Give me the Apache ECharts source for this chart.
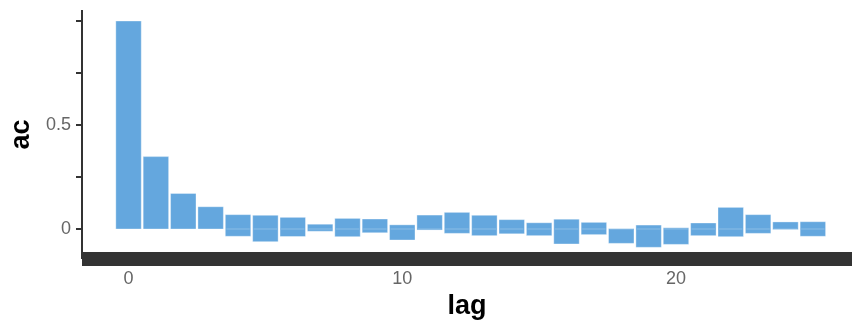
<!DOCTYPE html>
<html>
<head>
<meta charset="utf-8">
<script src="https://cdn.jsdelivr.net/npm/echarts@6/dist/echarts.min.js"></script>
<style>html,body{margin:0;padding:0;background:#fff}#c{width:852px;height:325px}</style>
</head>
<body>
<div id="c"></div>
<script>
var lags = [0,1,2,3,4,5,6,7,8,9,10,11,12,13,14,15,16,17,18,19,20,21,22,23,24,25];
var acPositive = [1.0,0.348,0.171,0.107,0.069,0.066,0.056,0.023,0.051,0.048,0.020,0.067,0.080,0.066,0.045,0.030,0.047,0.032,0.002,0.019,0.006,0.029,0.104,0.069,0.034,0.035];
var acNegative = [0,0,0,0,-0.035,-0.061,-0.036,-0.011,-0.037,-0.018,-0.053,-0.005,-0.021,-0.032,-0.023,-0.032,-0.072,-0.027,-0.069,-0.088,-0.074,-0.032,-0.037,-0.021,-0.003,-0.035];
var yTickValues = [0,0.25,0.5,0.75,1.0];
var yLabelValues = [0,0.5];
var xLabelValues = [0,10,20];

var chart = echarts.init(document.getElementById('c'), null, {renderer:'canvas'});
var font = 'Liberation Sans, Arial, Helvetica, sans-serif';
var barWidthLag = 0.93;
function renderBar(params, api) {
  var lag = api.value(0), pos = api.value(1), neg = api.value(2);
  var pTop = api.coord([lag - barWidthLag/2, pos]);
  var pBot = api.coord([lag + barWidthLag/2, neg]);
  var pZero = api.coord([lag, 0]);
  var x = pTop[0], w = pBot[0] - pTop[0];
  var children = [{
    type:'rect',
    shape:{x:x, y:pTop[1], width:w, height:pBot[1]-pTop[1]},
    style:{fill:'#64a7de', stroke:'rgba(255,255,255,0.35)', lineWidth:1}
  }];
  if (neg < 0) {
    children.push({type:'line', shape:{x1:x+1, y1:pZero[1], x2:x+w-1, y2:pZero[1]},
      style:{stroke:'rgba(255,255,255,0.25)', lineWidth:1}});
  }
  return {type:'group', children:children};
}
chart.setOption({
  animation:false,
  grid:{left:80,right:0,top:10,bottom:66},
  xAxis:{
    type:'value', min:-1.7, max:26.43,
    splitLine:{show:false},
    axisLine:{show:true, onZero:false, lineStyle:{color:'#333333', width:14, cap:'butt'}},
    axisTick:{show:false},
    axisLabel:{customValues:xLabelValues, color:'#666666', fontSize:18, fontFamily:font, margin:11,
      formatter:function(v){return String(v);}},
    name:'lag', nameLocation:'middle', nameGap:25,
    nameTextStyle:{color:'#000', fontSize:27, fontWeight:'bold', fontFamily:font}
  },
  yAxis:{
    type:'value', min:-0.1442, max:1.0529,
    splitLine:{show:false},
    axisLine:{show:true, onZero:false, lineStyle:{color:'#333333', width:2, cap:'butt'}},
    axisTick:{show:true, customValues:yTickValues, length:6, lineStyle:{color:'#333333', width:2}},
    axisLabel:{customValues:yLabelValues, color:'#666666', fontSize:18, fontFamily:font, margin:11,
      formatter:function(v){return v===0?'0':String(v);}},
    name:'ac', nameLocation:'middle', nameGap:47,
    nameTextStyle:{color:'#000', fontSize:27, fontWeight:'bold', fontFamily:font}
  },
  series:[
    {type:'custom', renderItem:renderBar, encode:{x:0, y:[1,2]},
      data:lags.map(function(l,i){return [l, acPositive[i], acNegative[i]];})}
  ]
});
</script>
</body>
</html>
